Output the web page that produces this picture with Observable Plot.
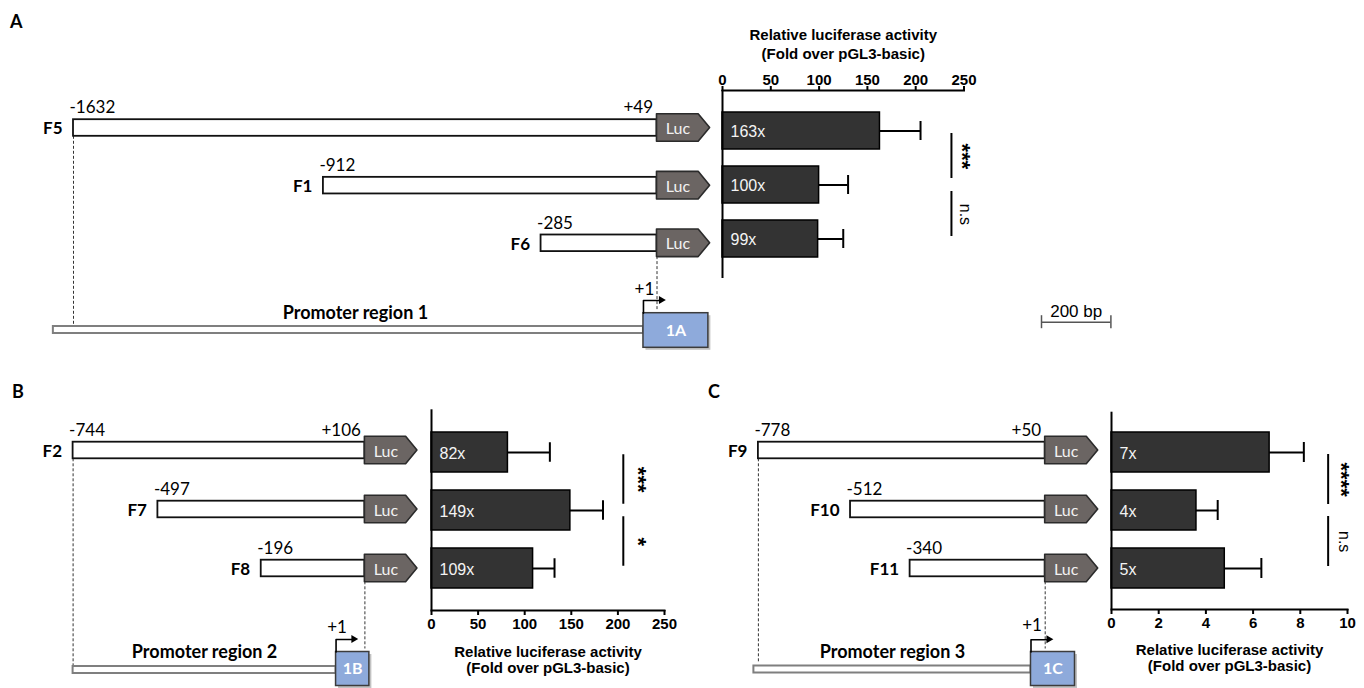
<!DOCTYPE html>
<html>
<head>
<meta charset="utf-8">
<script src="https://cdn.jsdelivr.net/npm/d3@7"></script>
<script src="https://cdn.jsdelivr.net/npm/@observablehq/plot@0.6"></script>
<style>
  html, body { margin: 0; padding: 0; background: #fff; }
  #fig { position: relative; width: 1364px; height: 688px; overflow: hidden; background: #fff; }
  #fig svg { position: absolute; }
  .letter { position: absolute; font: bold 18px Lato, sans-serif; line-height: 1; color: #000; }
</style>
</head>
<body>
<div id="fig">
  <div class="letter" style="left:10px;top:12px">A</div>
  <div class="letter" style="left:12px;top:382px">B</div>
  <div class="letter" style="left:708px;top:382px">C</div>
</div>
<script>
// ---------------- data ----------------
const fragNamesA = ["F5", "F1", "F6"];
const fragStartsA = [-1632, -912, -285];
const fragEndA = 49;
const foldA = [163, 100, 99];
const sdA = [42, 30, 26];
const foldLabelsA = ["163x", "100x", "99x"];
const sigA = ["***", "n.s"];
const ticksA = [0, 50, 100, 150, 200, 250];
const promoterA = [-1690, 10, 197];   // region start, +1, exon end (bp)
const exonA = "1A";
const regionA = "Promoter region 1";

const fragNamesB = ["F2", "F7", "F8"];
const fragStartsB = [-744, -497, -196];
const fragEndB = 106;
const foldB = [82, 149, 109];
const sdB = [45, 35, 23];
const foldLabelsB = ["82x", "149x", "109x"];
const sigB = ["***", "*"];
const ticksB = [0, 50, 100, 150, 200, 250];
const promoterB = [-744, 22, 119];
const exonB = "1B";
const regionB = "Promoter region 2";

const fragNamesC = ["F9", "F10", "F11"];
const fragStartsC = [-778, -512, -340];
const fragEndC = 50;
const foldC = [6.7, 3.6, 4.8];
const sdC = [1.45, 0.9, 1.55];
const foldLabelsC = ["7x", "4x", "5x"];
const sigC = ["****", "n.s"];
const ticksC = [0, 2, 4, 6, 8, 10];
const promoterC = [-791, 9, 136];
const exonC = "1C";
const regionC = "Promoter region 3";

const scaleBarBp = [200];
const axisTitle = "Relative luciferase activity\n(Fold over pGL3-basic)";

// ---------------- drawing ----------------
const fig = document.getElementById("fig");
function put(svg, left, top) { svg.style.left = left + "px"; svg.style.top = top + "px"; fig.appendChild(svg); }

const LATO = "Lato, 'Open Sans', sans-serif";
const ARIAL = "'Liberation Sans', Arial, Helvetica, sans-serif";
const LUC_BODY = 120, LUC_TIP = 153, ARROW_LEN = 66, HEAD_LEN = 20;

function constructPlot(c) {
  const [bl, bt, bw, bh] = c.box;
  const n = c.names.length;
  const step = (c.rowPx[1] - c.rowPx[0]) / (n - 1);
  const ry = px => (px - c.rowPx[0]) / step;
  const u = px => px / step;
  const fh = u(8.3), lh = u(13.8);
  const frags = c.names.map((name, i) => ({name, start: c.starts[i], end: c.end, i}));
  const luc = frags.flatMap(f => [
    {i: f.i, x: f.end, y1: f.i - lh, y2: f.i + lh},
    {i: f.i, x: f.end + LUC_BODY, y1: f.i - lh, y2: f.i + lh},
    {i: f.i, x: f.end + LUC_TIP, y1: f.i, y2: f.i}
  ]);
  const P = c.promoter;
  const L = c.lay;
  const barRow = ry(L.bar), exRow = ry(L.exon), arRow = ry(L.arrow);
  const arrowPath = [
    {x: P[1], y: exRow - u(L.exonH)},
    {x: P[1], y: arRow},
    {x: P[1] + ARROW_LEN - HEAD_LEN, y: arRow}
  ];
  const head = [
    {x: P[1] + ARROW_LEN - HEAD_LEN, y1: arRow - u(4), y2: arRow + u(4)},
    {x: P[1] + ARROW_LEN, y1: arRow, y2: arRow}
  ];
  const svg = Plot.plot({
    width: bw, height: bh, margin: 0,
    style: {fontFamily: LATO, fontSize: "17px", color: "#000", background: "transparent", overflow: "visible"},
    x: {domain: [c.starts[0], c.end], range: [c.xPx[0] - bl, c.xPx[1] - bl], axis: null},
    y: {domain: [0, n - 1], range: [c.rowPx[0] - bt, c.rowPx[1] - bt], axis: null},
    marks: [
      Plot.ruleX([c.starts[0]], {y1: fh, y2: ry(L.dashL), stroke: "#333", strokeWidth: 1, strokeDasharray: "3,2"}),
      Plot.ruleX([c.end], {y1: n - 1 + fh, y2: exRow - u(L.exonH + 3), stroke: "#333", strokeWidth: 1, strokeDasharray: "3,2"}),
      Plot.rect(frags, {x1: "start", x2: "end", y1: d => d.i - fh, y2: d => d.i + fh, fill: "white", stroke: "#111", strokeWidth: 1.8}),
      Plot.areaY(luc, {x: "x", y1: "y1", y2: "y2", z: "i", fill: "#6b6563", stroke: "#2b2b2b", strokeWidth: 1.6, curve: "linear"}),
      Plot.text(frags, {x: "end", y: "i", text: () => "Luc", dx: 21, dy: 1, fill: "#f2f2f2", fontSize: 16}),
      Plot.text(frags, {x: "start", y: "i", text: "name", textAnchor: "end", dx: -11, dy: 1, fontWeight: "bold"}),
      Plot.text(frags, {x: "start", y: "i", text: d => String(d.start), textAnchor: "start", dx: -4, dy: -20}),
      Plot.text(frags.slice(0, 1), {x: "end", y: "i", text: d => "+" + d.end, textAnchor: "end", dx: -4, dy: -20}),
      // promoter schematic
      Plot.rect([P], {x1: d => d[0], x2: d => d[1], y1: barRow - u(L.barH), y2: barRow + u(L.barH), fill: "white", stroke: "#7f7f7f", strokeWidth: 2}),
      Plot.rect([P], {x1: d => d[1], x2: d => d[2], y1: exRow - u(L.exonH), y2: exRow + u(L.exonH), fill: "#777", fillOpacity: 0.45, dx: 2.5, dy: 2.5}),
      Plot.rect([P], {x1: d => d[1], x2: d => d[2], y1: exRow - u(L.exonH), y2: exRow + u(L.exonH), fill: "#8eaadb", stroke: "#3c3c3c", strokeWidth: 1.5}),
      Plot.text([c.exon], {x: () => (P[1] + P[2]) / 2, y: () => exRow, text: d => d, fill: "white", fontWeight: "bold", fontSize: 16}),
      Plot.line(arrowPath, {x: "x", y: "y", stroke: "#000", strokeWidth: 1.6}),
      Plot.areaY(head, {x: "x", y1: "y1", y2: "y2", fill: "#000"}),
      Plot.text(["+1"], {x: () => P[1], y: () => ry(L.plus), text: d => d, dx: 1}),
      Plot.text([c.region], {x: () => (P[0] + P[1]) / 2, y: () => ry(L.title), text: d => d, dx: c.titleDx || 0, fontWeight: "bold", fontSize: 18})
    ]
  });
  put(svg, bl, bt);
}

function barPlot(c) {
  const [bl, bt, bw, bh] = c.box;
  const [fx0, fx1, fy0, fy1] = c.frame;
  const rows = c.names.map((name, i) => ({name, v: c.values[i], e: c.values[i] + c.sd[i], lab: c.labels[i]}));
  const n = rows.length;
  const step = (c.barPx[1] - c.barPx[0]) / (n - 1);
  const pad = 1 - c.barH / step;
  const r0 = c.barPx[0] - step * (1 + pad) / 2;
  const r1 = r0 + step * (n + pad);
  const isTop = c.axis === "top";
  const marks = [
    Plot.barX(rows, {x: "v", y: "name", fill: "#333", stroke: "#000", strokeWidth: 1.5}),
    Plot.ruleY(rows, {y: "name", x1: "v", x2: "e", strokeWidth: 2}),
    Plot.tickX(rows, {x: "e", y: "name", strokeWidth: 2, insetTop: (c.barH - 20) / 2, insetBottom: (c.barH - 20) / 2}),
    Plot.text(rows, {x: 0, y: "name", text: "lab", textAnchor: "start", dx: 8, dy: 1, fill: "#f4f4f4", fontSize: 16, fontWeight: "normal"}),
    Plot.ruleX([0], {strokeWidth: 2}),
    Plot.frame({anchor: c.axis, strokeWidth: 2}),
    Plot.axisX({anchor: c.axis, ticks: c.ticks, tickSize: 5, tickPadding: isTop ? 1 : 3, strokeWidth: 2, fontSize: 15, fontWeight: "bold"}),
    Plot.text([axisTitle], {frameAnchor: c.axis, lineAnchor: "middle", text: d => d, dy: c.titleDy, lineHeight: c.titleLH, fontSize: 15, fontWeight: "bold"})
  ];
  c.sig.forEach((s, k) => {
    const a = k === 0 ? 2 : 6, b = k === 0 ? 6 : 2;
    marks.push(Plot.ruleX([s], {x: c.sigX, y1: () => c.names[k], y2: () => c.names[k + 1], strokeWidth: 2,
      insetTop: c.barH / 2 + a, insetBottom: c.barH / 2 + b}));
    const star = s.includes("*");
    marks.push(Plot.text([s], {x: c.sigX, y: () => c.names[k], text: d => d, dx: c.sigDx + (star ? -3 : 0), dy: step / 2 + (k === 0 ? -2 : 2),
      rotate: 90, fontSize: star ? 22 : 16, fontWeight: star ? "bold" : "normal"}));
  });
  const svg = Plot.plot({
    width: bw, height: bh,
    marginLeft: fx0 - bl, marginRight: bl + bw - fx1, marginTop: fy0 - bt, marginBottom: bt + bh - fy1,
    style: {fontFamily: ARIAL, fontSize: "14px", fontWeight: "bold", color: "#000", background: "transparent", overflow: "visible"},
    x: {domain: [0, c.ticks[c.ticks.length - 1]], label: null},
    y: {domain: c.names, range: [r0 - bt, r1 - bt], padding: pad, axis: null, label: null},
    marks
  });
  put(svg, bl, bt);
}

function scaleBar() {
  const svg = Plot.plot({
    width: 100, height: 40, margin: 0,
    style: {fontFamily: ARIAL, fontSize: "17px", color: "#000", background: "transparent", overflow: "visible"},
    x: {domain: [0, scaleBarBp[0]], range: [11, 80.4], axis: null},
    y: {domain: [-1, 1], range: [33.2, 20.2], axis: null},
    marks: [
      Plot.ruleY(scaleBarBp, {x1: 0, x2: d => d, y: () => 0, stroke: "#555", strokeWidth: 1.5}),
      Plot.ruleX([0, scaleBarBp[0]], {y1: -1, y2: 1, stroke: "#555", strokeWidth: 1.5}),
      Plot.text(scaleBarBp, {x: d => d / 2, y: () => 0, dy: -11, text: d => `${d} bp`})
    ]
  });
  put(svg, 1030, 295);
}

// Panel A
constructPlot({names: fragNamesA, starts: fragStartsA, end: fragEndA, promoter: promoterA, exon: exonA, region: regionA,
  box: [0, 80, 715, 290], xPx: [73, 656.5], rowPx: [127.5, 242.8], titleDx: 7,
  lay: {bar: 329.5, barH: 3.5, exon: 330, exonH: 17.3, arrow: 300, plus: 289, title: 313, dashL: 325}});
barPlot({names: fragNamesA, values: foldA, sd: sdA, labels: foldLabelsA, sig: sigA, ticks: ticksA, axis: "top",
  box: [715, 0, 285, 300], frame: [722, 963.5, 90, 278], barPx: [129.7, 239.5], barH: 38,
  titleDy: -47.3, titleLH: 1.3, sigX: 237, sigDx: 14});

// Panel B
constructPlot({names: fragNamesB, starts: fragStartsB, end: fragEndB, promoter: promoterB, exon: exonB, region: regionB,
  box: [0, 400, 425, 288], xPx: [72.6, 364.4], rowPx: [450, 568],
  lay: {bar: 669.5, barH: 3.5, exon: 668.5, exonH: 17, arrow: 639, plus: 627, title: 652, dashL: 665}});
barPlot({names: fragNamesB, values: foldB, sd: sdB, labels: foldLabelsB, sig: sigB, ticks: ticksB, axis: "bottom",
  box: [425, 380, 275, 308], frame: [431, 664, 409.3, 610], barPx: [451.3, 568], barH: 40.5,
  titleDy: 49, titleLH: 1.1, sigX: 205.8, sigDx: 17.5});

// Panel C
constructPlot({names: fragNamesC, starts: fragStartsC, end: fragEndC, promoter: promoterC, exon: exonC, region: regionC,
  box: [700, 400, 400, 288], xPx: [757.9, 1044.7], rowPx: [450, 568],
  lay: {bar: 669, barH: 3.5, exon: 668.5, exonH: 17, arrow: 639.3, plus: 625, title: 651.7, dashL: 662}});
barPlot({names: fragNamesC, values: foldC, sd: sdC, labels: foldLabelsC, sig: sigC, ticks: ticksC, axis: "bottom",
  box: [1100, 380, 264, 308], frame: [1111, 1347, 411.7, 609], barPx: [451.7, 568.3], barH: 40,
  titleDy: 48, titleLH: 1.07, sigX: 9.18, sigDx: 16});

scaleBar();
</script>
</body>
</html>
